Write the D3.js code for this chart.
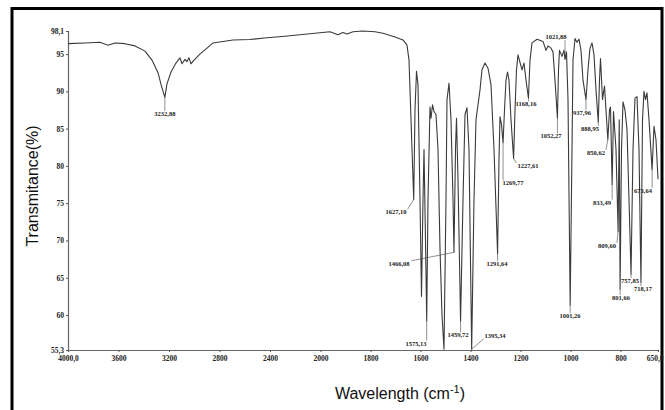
<!DOCTYPE html>
<html>
<head>
<meta charset="utf-8">
<script src="https://cdn.jsdelivr.net/npm/d3@7"></script>
<style>
body { margin: 0; background: #fff; }
</style>
</head>
<body>
<div id="chart"></div>
<script>
// spectrum, wavenumber (cm-1) -> transmittance (%)
var wavenumbers = [4000, 3865, 3747, 3683, 3628, 3549, 3469, 3390, 3335, 3287, 3263, 3232.88, 3216, 3184, 3145, 3113,
    3097, 3073, 3058, 3042, 3026, 3002, 2955, 2899, 2852, 2693, 2559, 2424, 2281, 2163, 2044, 1962, 1930, 1910, 1894,
    1870, 1830, 1782, 1750, 1702, 1670, 1654, 1646, 1638, 1627.10, 1622, 1616, 1610, 1602, 1596, 1590, 1586, 1580,
    1575.13, 1570, 1562, 1558, 1552, 1546, 1538, 1530, 1522, 1514, 1506, 1498, 1494, 1486, 1478, 1470, 1466.08, 1460,
    1456, 1450, 1439.72, 1430, 1422, 1414, 1406, 1395.34, 1386, 1378, 1370, 1362, 1354, 1342, 1330, 1318, 1306,
    1291.64, 1286, 1282, 1276, 1269.77, 1264, 1258, 1252, 1246, 1238, 1227.61, 1222, 1216, 1210, 1202, 1194, 1186,
    1178, 1168.16, 1162, 1154, 1134, 1110, 1098, 1090, 1078, 1070, 1062, 1052.27, 1048, 1044, 1034, 1026, 1021.88,
    1016, 1010, 1001.26, 994, 990, 982, 974, 966, 958, 950, 937.96, 930, 922, 914, 906, 898, 888.95, 884, 880, 872,
    864, 850.62, 844, 840, 833.49, 828, 818, 809.60, 805, 801.66, 796, 790, 782, 774, 766, 757.85, 750, 742, 734, 726,
    718.17, 712, 706, 700, 694, 686, 673.64, 666, 658, 650];
var transmittance = [96.4, 96.5, 96.6, 96.2, 96.5, 96.4, 96.1, 95.4, 94.2, 92.5, 90.9, 89.2, 91.0, 92.6, 93.8, 94.5,
    93.7, 94.3, 94.0, 94.5, 93.7, 94.2, 95.0, 95.8, 96.5, 96.9, 96.95, 97.2, 97.4, 97.6, 97.8, 98.0, 97.6, 97.9, 97.7,
    98.0, 98.1, 98.0, 97.8, 97.3, 96.9, 96.2, 94.2, 86.2, 75.5, 87.5, 92.7, 90.9, 75.5, 62.5, 75.5, 82.2, 70.0,
    59.2, 75.5, 87.9, 86.4, 88.2, 87.3, 86.9, 82.2, 68.9, 60.0, 55.4, 75.5, 88.9, 91.1, 86.2, 75.5, 68.4, 82.2,
    86.4, 78.2, 59.2, 75.5, 86.9, 87.8, 82.2, 55.4, 75.5, 86.2, 88.2, 90.2, 92.9, 93.8, 93.1, 90.9, 82.2,
    68.2, 80.9, 86.6, 85.5, 83.1, 87.5, 91.5, 92.6, 91.5, 86.2, 81.0, 87.5, 92.9, 94.9, 93.9, 92.9, 93.8,
    91.5, 89.1, 94.2, 96.5, 97.0, 96.7, 95.5, 96.1, 95.8, 95.3, 91.5, 86.4, 92.9, 95.5, 94.7, 95.5, 94.3,
    95.3, 88.9, 61.3, 82.2, 94.2, 97.1, 96.6, 97.0, 95.5, 91.5, 88.9, 92.9, 95.8, 96.5, 94.9, 90.2, 85.9, 91.5, 94.4, 88.9,
    90.7, 83.5, 87.5, 87.9, 77.5, 87.3, 82.2, 71.2, 86.2, 63.5, 82.2, 88.6, 87.5, 84.9, 75.5, 65.5, 82.2, 89.1, 89.3, 82.2,
    64.4, 86.2, 90.0, 88.9, 89.8, 86.2, 79.5, 85.3, 83.5, 78.2];

var xTickValues = [4000, 3600, 3200, 2800, 2400, 2000, 1800, 1600, 1400, 1200, 1000, 800, 650];
var xTickLabels = ["4000,0", "3600", "3200", "2800", "2400", "2000", "1800", "1600", "1400", "1200", "1000", "800", "650,0"];
var yTickValues = [98.1, 95, 90, 85, 80, 75, 70, 65, 60, 55.3];
var yTickLabels = ["98,1", "95", "90", "85", "80", "75", "70", "65", "60", "55,3"];

// peak annotations: band tip and where the printed label sits (data units)
var peakNames = ["3232,88", "1627,10", "1575,13", "1466,08", "1459,72", "1395,34", "1291,64", "1269,77", "1227,61",
    "1168,16", "1052,27", "1021,88", "1001,26", "937,96", "888,95", "850,62", "833,49", "809,60", "801,66",
    "757,85", "718,17", "673,64"];
var peakWn = [3232.88, 1627.10, 1575.13, 1466.08, 1439.72, 1395.34, 1291.64, 1269.77, 1227.61, 1168.16, 1052.27,
    1021.88, 1001.26, 937.96, 888.95, 850.62, 833.49, 809.60, 801.66, 757.85, 718.17, 673.64];
var peakT = [89.2, 75.5, 59.2, 68.4, 59.2, 55.4, 68.2, 83.1, 81.0, 89.1, 86.4, 94.3, 61.3, 88.9, 85.9, 83.5, 77.5,
    71.2, 63.5, 65.5, 64.4, 79.5];
var labelWn = [3232.88, 1698, 1618, 1686, 1450, 1302, 1294, 1230, 1170, 1178, 1078, 1058, 1002, 954, 922, 898, 874,
    854, 798, 762, 710, 710];
var labelT = [86.7, 73.5, 55.9, 66.6, 57.0, 56.9, 66.6, 77.4, 79.7, 88.0, 83.7, 97.0, 59.6, 86.8, 84.7, 81.5, 74.8,
    69.0, 62.0, 64.3, 63.2, 76.4];

var width = 665, height = 410;

var svg = d3.select("#chart")
    .append("svg")
    .attr("width", width)
    .attr("height", height)
    .style("font-family", "'Liberation Serif', serif");

// scanned page frame
svg.append("rect")
    .attr("x", 12).attr("y", 8.5)
    .attr("width", 650).attr("height", 420)
    .attr("fill", "none")
    .attr("stroke", "#000")
    .attr("stroke-width", 3);

// x scale changes at 2000 cm-1 like the instrument printout
var x = d3.scaleLinear().domain([4000, 2000, 650]).range([68, 320.5, 658]);
var y = d3.scaleLinear().domain([55.3, 98.1]).range([350, 31]);

var xAxis = svg.append("g")
    .attr("transform", "translate(0," + y(55.3) + ")")
    .call(d3.axisBottom(x).tickValues(xTickValues).tickSize(2).tickPadding(4)
        .tickFormat(function(d, i) { return xTickLabels[i]; }));

var yAxis = svg.append("g")
    .attr("transform", "translate(" + x(4000) + ",0)")
    .call(d3.axisLeft(y).tickValues(yTickValues).tickSize(2).tickPadding(2)
        .tickFormat(function(d, i) { return yTickLabels[i]; }));

[xAxis, yAxis].forEach(function(g) {
    g.select(".domain").attr("stroke", "#666").attr("stroke-width", 1.2);
    g.selectAll(".tick line").attr("stroke", "#555");
    g.selectAll(".tick text")
        .attr("fill", "#222")
        .style("font-size", "7.5px")
        .style("font-weight", "bold")
        .style("font-family", "'Liberation Serif', serif");
});

// last x label sits against the frame, keep it inside
xAxis.selectAll(".tick text")
    .filter(function(d) { return d === 650; })
    .attr("text-anchor", "end")
    .attr("dx", 5);

// the spectrum
var points = wavenumbers.map(function(w, i) { return [w, transmittance[i]]; });
var line = d3.line()
    .x(function(d) { return x(d[0]); })
    .y(function(d) { return y(d[1]); });

svg.append("path")
    .datum(points)
    .attr("fill", "none")
    .attr("stroke", "#3a3a3a")
    .attr("stroke-width", 1.1)
    .attr("stroke-linejoin", "round")
    .attr("d", line);

// peak labels with leader lines
var labels = svg.append("g");
peakNames.forEach(function(name, i) {
    var t = labels.append("text")
        .attr("x", x(labelWn[i]))
        .attr("y", y(labelT[i]))
        .attr("text-anchor", "middle")
        .attr("fill", "#222")
        .style("font-size", "6.5px")
        .style("font-weight", "bold")
        .text(name);
    var b = t.node().getBBox();
    var px = x(peakWn[i]), py = y(peakT[i]);
    var ex = Math.max(b.x - 1, Math.min(px, b.x + b.width + 1));
    var ey = Math.max(b.y + 1, Math.min(py, b.y + b.height));
    labels.append("line")
        .attr("x1", px).attr("y1", py)
        .attr("x2", ex).attr("y2", ey)
        .attr("stroke", "#444")
        .attr("stroke-width", 0.6);
});

// axis titles
svg.append("text")
    .attr("transform", "translate(38," + 186 + ") rotate(-90)")
    .attr("text-anchor", "middle")
    .style("font-family", "'Liberation Sans', Arial, sans-serif")
    .style("font-size", "16px")
    .attr("fill", "#111")
    .text("Transmitance(%)");

var xt = svg.append("text")
    .attr("x", 400)
    .attr("y", 399)
    .attr("text-anchor", "middle")
    .style("font-family", "'Liberation Sans', Arial, sans-serif")
    .style("font-size", "16px")
    .attr("fill", "#111");
xt.append("tspan").text("Wavelength (cm");
xt.append("tspan").attr("dy", -6).style("font-size", "11px").text("-1");
xt.append("tspan").attr("dy", 6).text(")");
</script>
</body>
</html>
